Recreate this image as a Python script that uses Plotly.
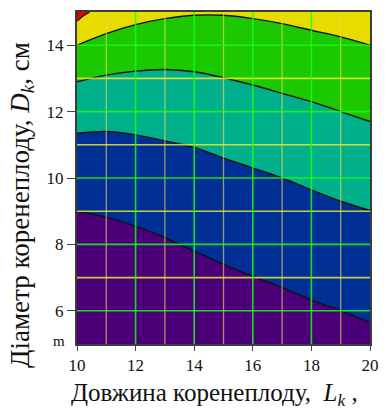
import plotly.graph_objects as go

# Root length L_k (x) sample positions along each contour boundary
lengths = [10, 11, 12, 13, 14, 15, 16, 17, 18, 19, 20]

# Root diameter D_k (y) along each boundary between filled levels
edge_purple_blue = [9.0, 8.82, 8.55, 8.2, 7.8, 7.4, 7.04, 6.7, 6.33, 6.0, 5.65]
edge_blue_teal = [11.35, 11.4, 11.3, 11.12, 10.92, 10.6, 10.3, 10.0, 9.64, 9.3, 9.02]
edge_teal_green = [12.9, 13.1, 13.22, 13.27, 13.2, 13.02, 12.8, 12.55, 12.3, 12.0, 11.7]
edge_green_yellow = [14.0, 14.35, 14.62, 14.8, 14.9, 14.9, 14.8, 14.65, 14.45, 14.25, 14.0]

# Small top-left region of the highest level
red_x = [10.0, 10.0, 10.15, 10.3, 10.43]
red_y = [15.0, 14.73, 14.84, 14.93, 15.0]

level_colors = {
    "purple": "#4b0079",
    "blue": "#003096",
    "teal": "#00b08b",
    "green": "#1cc800",
    "yellow": "#e6dc00",
    "red": "#e60000",
}

x_ticks = [10, 12, 14, 16, 18, 20]
y_ticks = [6, 8, 10, 12, 14]
x_odd_grid = [11, 13, 15, 17, 19]
y_odd_grid = [7, 9, 11, 13]
x_even_grid = [12, 14, 16, 18]
y_even_grid = [6, 8, 10, 12, 14]

fig = go.Figure()

bands = [
    (edge_green_yellow, level_colors["green"]),
    (edge_teal_green, level_colors["teal"]),
    (edge_blue_teal, level_colors["blue"]),
    (edge_purple_blue, level_colors["purple"]),
]
for edge, color in bands:
    fig.add_trace(go.Scatter(
        x=lengths, y=edge, mode="lines",
        line=dict(color="#111111", width=1.4, shape="spline", smoothing=1.0),
        fill="tozeroy", fillcolor=color, hoverinfo="skip", showlegend=False,
    ))

fig.add_trace(go.Scatter(
    x=red_x, y=red_y, mode="lines",
    line=dict(color="#111111", width=1.2, shape="spline", smoothing=0.8),
    fill="toself", fillcolor=level_colors["red"], hoverinfo="skip", showlegend=False,
))

# Grid drawn over the filled levels
shapes = []
for v in x_odd_grid:
    shapes.append(dict(type="line", xref="x", yref="paper", x0=v, x1=v, y0=0, y1=1,
                       line=dict(color="rgba(235,215,90,0.65)", width=1.3), layer="above"))
for v in y_odd_grid:
    shapes.append(dict(type="line", xref="paper", yref="y", x0=0, x1=1, y0=v, y1=v,
                       line=dict(color="rgba(235,235,40,0.85)", width=1.6), layer="above"))
for v in x_even_grid:
    shapes.append(dict(type="line", xref="x", yref="paper", x0=v, x1=v, y0=0, y1=1,
                       line=dict(color="rgba(20,255,20,0.85)", width=1.6), layer="above"))
for v in y_even_grid:
    shapes.append(dict(type="line", xref="paper", yref="y", x0=0, x1=1, y0=v, y1=v,
                       line=dict(color="rgba(20,255,20,0.85)", width=1.6), layer="above"))

serif = "Liberation Serif"

fig.update_layout(
    width=389, height=417,
    margin=dict(l=77, r=12, t=10, b=73),
    paper_bgcolor="white",
    plot_bgcolor=level_colors["yellow"],
    shapes=shapes,
    font=dict(family=serif, color="#111111"),
    xaxis=dict(
        range=[10, 20], tickvals=x_ticks, ticks="outside", ticklen=5, tickwidth=1,
        tickcolor="#444444", showgrid=False, zeroline=False, showline=True,
        linecolor="#3c3c3c", linewidth=2, mirror=True,
        tickfont=dict(family=serif, size=17, color="#111111"),
    ),
    yaxis=dict(
        range=[5, 15], tickvals=y_ticks, ticks="outside", ticklen=8, tickwidth=1,
        tickcolor="#444444", showgrid=False, zeroline=False, showline=True,
        linecolor="#3c3c3c", linewidth=2, mirror=True,
        tickfont=dict(family=serif, size=17, color="#111111"),
    ),
    annotations=[
        dict(text="Діаметр коренеплоду, <i>D</i><sub><i>k</i></sub>, см",
             xref="paper", yref="paper", x=-0.19, y=0.42, textangle=-90,
             showarrow=False, xanchor="center", yanchor="middle",
             font=dict(family=serif, size=27, color="#111111")),
        dict(text="Довжина коренеплоду,  <i>L</i><sub><i>k</i></sub> ,",
             xref="paper", yref="paper", x=0.468, y=-0.152,
             showarrow=False, xanchor="center", yanchor="middle",
             font=dict(family=serif, size=25, color="#111111")),
        dict(text="m", xref="paper", yref="paper", x=-0.063, y=0.01,
             showarrow=False, xanchor="center", yanchor="middle",
             font=dict(family=serif, size=15, color="#111111")),
    ],
)

fig.write_html("out.html")
